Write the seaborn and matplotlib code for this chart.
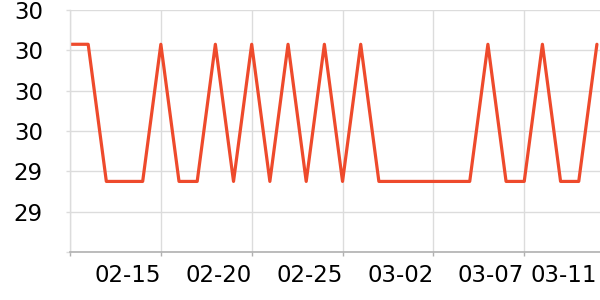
import matplotlib
matplotlib.use("Agg")
import matplotlib.pyplot as plt
import seaborn as sns
import pandas as pd
import numpy as np

# ---- data ----
dates = pd.date_range("2023-02-10", "2023-03-11", freq="D").strftime("%m-%d").tolist()
HI, LO = 30.03, 29.35
values = [HI, HI, LO, LO, LO, HI, LO, LO, HI, LO,
          HI, LO, HI, LO, HI, LO, HI, LO, LO, LO,
          LO, LO, LO, HI, LO, LO, HI, LO, LO, HI]
ytick_values = [29.0, 29.2, 29.4, 29.6, 29.8, 30.0, 30.2]
ytick_labels = ["", "29", "29", "30", "30", "30", "30"]
xtick_idx = [0, 5, 10, 15, 20, 25]
xtick_labels = ["", "02-15", "02-20", "02-25", "03-02", "03-07"]
end_idx = [29]
end_label = ["03-11"]

df = pd.DataFrame({"idx": np.arange(len(dates)), "date": dates, "value": values})

sns.set_theme(style="white")
plt.rcParams["font.family"] = ["DejaVu Sans"]

fig = plt.figure(figsize=(6, 3), dpi=100)
ax = fig.add_axes([70 / 600, 48 / 300, 530 / 600, 242 / 300])

sns.lineplot(data=df, x="idx", y="value", ax=ax, color="#ee4a2c", linewidth=2.3)

ax.set_xlim(0, 29.17)
ax.set_ylim(29.0, 30.2)
ax.set_xlabel("")
ax.set_ylabel("")

ax.set_yticks(ytick_values)
ax.set_yticklabels(ytick_labels)
ax.set_xticks(xtick_idx)
ax.set_xticklabels(xtick_labels, ha="right")
ax.set_xticks(end_idx, minor=True)
ax.set_xticklabels(end_label, minor=True, ha="right")

ax.grid(True, which="major", color="#dcdcdc", linewidth=1.0)
ax.grid(False, which="minor")
ax.set_axisbelow(True)

for s in ["top", "right"]:
    ax.spines[s].set_visible(False)
ax.spines["left"].set_color("#dcdcdc")
ax.spines["left"].set_linewidth(1.0)
ax.spines["bottom"].set_color("#b0b0b0")
ax.spines["bottom"].set_linewidth(1.2)

ax.tick_params(axis="y", length=3, width=1, color="#dcdcdc", pad=16.5,
               labelsize=16.5, labelcolor="black", left=True)
ax.tick_params(axis="x", which="major", length=3, width=1, color="#b0b0b0", pad=5.5,
               labelsize=16.5, labelcolor="black", bottom=True)
ax.tick_params(axis="x", which="minor", length=0, pad=8.5,
               labelsize=16.5, labelcolor="black", bottom=True)

fig.savefig("out.png", dpi=100)
